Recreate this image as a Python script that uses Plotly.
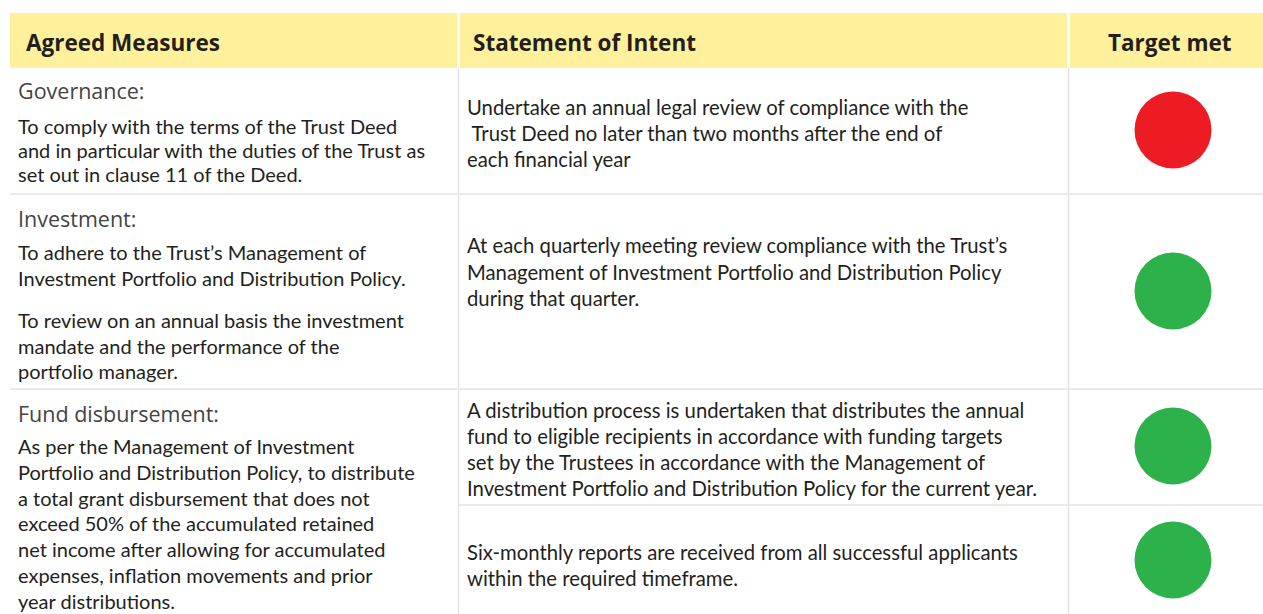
import plotly.graph_objects as go

# ---- data ----
headers = ["Agreed Measures", "Statement of Intent", "Target met"]

measure_titles = ["Governance:", "Investment:", "Fund disbursement:"]
measure_bodies = [
    [["To comply with the terms of the Trust Deed",
      "and in particular with the duties of the Trust as",
      "set out in clause 11 of the Deed."]],
    [["To adhere to the Trust\u2019s Management of",
      "Investment Portfolio and Distribution Policy."],
     ["To review on an annual basis the investment",
      "mandate and the performance of the",
      "portfolio manager."]],
    [["As per the Management of Investment",
      "Portfolio and Distribution Policy, to distribute",
      "a total grant disbursement that does not",
      "exceed 50% of the accumulated retained",
      "net income after allowing for accumulated",
      "expenses, inflation movements and prior",
      "year distributions."]],
]

intents = [
    ["Undertake an annual legal review of compliance with the",
     " Trust Deed no later than two months after the end of",
     "each financial year"],
    ["At each quarterly meeting review compliance with the Trust\u2019s",
     "Management of Investment Portfolio and Distribution Policy",
     "during that quarter."],
    ["A distribution process is undertaken that distributes the annual",
     "fund to eligible recipients in accordance with funding targets",
     "set by the Trustees in accordance with the Management of",
     "Investment Portfolio and Distribution Policy for the current year."],
    ["Six-monthly reports are received from all successful applicants",
     "within the required timeframe."],
]

target_met = [False, True, True, True]

# ---- layout geometry (styling) ----
W, H = 1263, 614
FONT = "Lato"
TXT = "#231F20"
YELLOW = "#FFF09B"
GRID = "#E3E3E3"
RED = "#ED1C24"
GREEN = "#2DB14B"

col_x = [(10, 457), (460, 1067), (1070, 1263)]
header_y = (13, 68)

title_y = [90, 218, 413]
body_start_y = [126, 252, 446]
body_step = [24, 25.5, 25.8]
para_gap = 17

intent_start_y = [107, 245, 410, 552]
intent_step = [26, 26.5, 26, 26]
circle_y = [130, 291, 446, 560]
circle_x = 1173

shapes = []
for (x0, x1) in col_x:
    shapes.append(dict(type="rect", xref="x", yref="y", x0=x0, x1=x1,
                       y0=header_y[0], y1=header_y[1], fillcolor=YELLOW,
                       line=dict(width=0), layer="below"))
for yy in [194, 389]:
    shapes.append(dict(type="line", xref="x", yref="y", x0=10, x1=W, y0=yy, y1=yy,
                       line=dict(color=GRID, width=1.5)))
shapes.append(dict(type="line", xref="x", yref="y", x0=458, x1=W, y0=505, y1=505,
                   line=dict(color=GRID, width=1.5)))
for xx in [458.5, 1068.5]:
    shapes.append(dict(type="line", xref="x", yref="y", x0=xx, x1=xx, y0=header_y[1], y1=H,
                       line=dict(color=GRID, width=1.5)))

ann = []
hx = [24, 471, 1170]
hanchor = ["left", "left", "center"]
for h, x, a in zip(headers, hx, hanchor):
    ann.append(dict(x=x, y=42, xref="x", yref="y", text="<b>" + h + "</b>",
                    showarrow=False, xanchor=a, yanchor="middle",
                    font=dict(family="Open Sans", size=22.5, color=TXT)))

for i, t in enumerate(measure_titles):
    ann.append(dict(x=16, y=title_y[i], xref="x", yref="y", text=t, showarrow=False,
                    xanchor="left", yanchor="middle",
                    font=dict(family="Open Sans", size=21.5, color="#444444")))
    k = 0
    for p, para in enumerate(measure_bodies[i]):
        for line in para:
            yy = body_start_y[i] + k * body_step[i] + p * para_gap
            ann.append(dict(x=16, y=yy, xref="x", yref="y", text=line, showarrow=False,
                            xanchor="left", yanchor="middle",
                            font=dict(family=FONT, size=20, color=TXT)))
            k += 1

for i, lines in enumerate(intents):
    for j, line in enumerate(lines):
        yy = intent_start_y[i] + j * intent_step[i]
        ann.append(dict(x=465, y=yy, xref="x", yref="y", text=line, showarrow=False,
                        xanchor="left", yanchor="middle",
                        font=dict(family=FONT, size=20.3, color=TXT)))

fig = go.Figure()
fig.add_trace(go.Scatter(
    x=[circle_x] * len(target_met), y=circle_y, mode="markers",
    marker=dict(size=77, color=[GREEN if m else RED for m in target_met],
                line=dict(width=0)),
    hoverinfo="skip", showlegend=False))

fig.update_layout(
    width=W, height=H, margin=dict(l=0, r=0, t=0, b=0),
    paper_bgcolor="white", plot_bgcolor="white",
    xaxis=dict(range=[0, W], visible=False, fixedrange=True),
    yaxis=dict(range=[H, 0], visible=False, fixedrange=True),
    shapes=shapes, annotations=ann, showlegend=False,
)
fig.write_html("out.html", config={"responsive": False, "displayModeBar": False},
               post_script="document.body.style.margin='0px';document.body.style.overflow='hidden';")
